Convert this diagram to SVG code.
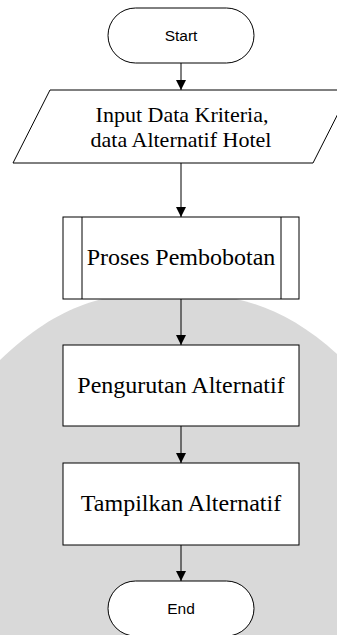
<svg xmlns="http://www.w3.org/2000/svg" width="337" height="635" viewBox="0 0 337 635">
  <defs>
    <marker id="arrow" markerWidth="10" markerHeight="10" refX="10" refY="5" orient="auto" markerUnits="userSpaceOnUse">
      <path d="M0,0 L10,5 L0,10 Z" fill="#000"/>
    </marker>
  </defs>
  <style>
    .shape { fill: #fff; stroke: #000; stroke-width: 1; }
    .line { fill: none; stroke: #000; stroke-width: 1; }
    .edge { fill: none; stroke: #000; stroke-width: 1; marker-end: url(#arrow); }
    .sans { font-family: 'Liberation Sans', Arial, sans-serif; font-size: 15.5px; fill: #000; text-anchor: middle; }
    .serif { font-family: 'Liberation Serif', 'Times New Roman', serif; fill: #000; text-anchor: middle; }
  </style>

  <!-- page background with the grey lower band -->
  <rect x="0" y="0" width="337" height="635" fill="#fff"/>
  <path d="M0,360 C60,302 110,292 168,292 C226,292 280,302 337,354 L337,635 L0,635 Z" fill="#d9d9d9"/>

  <!-- connectors -->
  <g id="connectors">
    <line class="edge" x1="181" y1="63" x2="181" y2="90"/>
    <line class="edge" x1="181" y1="163" x2="181" y2="217"/>
    <line class="edge" x1="181" y1="299" x2="181" y2="345"/>
    <line class="edge" x1="181" y1="426" x2="181" y2="463"/>
    <line class="edge" x1="181" y1="545" x2="181" y2="581"/>
  </g>

  <g id="start">
    <rect class="shape" x="108" y="8" width="146" height="55" rx="27.5" ry="27.5"/>
    <text class="sans" x="181" y="41">Start</text>
  </g>

  <g id="input">
    <polygon class="shape" points="50,90 350,90 313,163 13,163"/>
    <text class="serif" font-size="22" x="182" y="122">Input Data Kriteria,</text>
    <text class="serif" font-size="22" x="181" y="147">data Alternatif Hotel</text>
  </g>

  <g id="pembobotan">
    <rect class="shape" x="63" y="217" width="236" height="82"/>
    <line class="line" x1="82" y1="217" x2="82" y2="299"/>
    <line class="line" x1="281" y1="217" x2="281" y2="299"/>
    <text class="serif" font-size="24" x="181" y="265">Proses Pembobotan</text>
  </g>

  <g id="pengurutan">
    <rect class="shape" x="63" y="345" width="236" height="81"/>
    <text class="serif" font-size="24" x="181" y="393">Pengurutan Alternatif</text>
  </g>

  <g id="tampilkan">
    <rect class="shape" x="63" y="463" width="236" height="82"/>
    <text class="serif" font-size="24" x="181" y="511">Tampilkan Alternatif</text>
  </g>

  <g id="end">
    <rect class="shape" x="108" y="581" width="146" height="55" rx="27.5" ry="27.5"/>
    <text class="sans" x="181" y="614">End</text>
  </g>
</svg>
